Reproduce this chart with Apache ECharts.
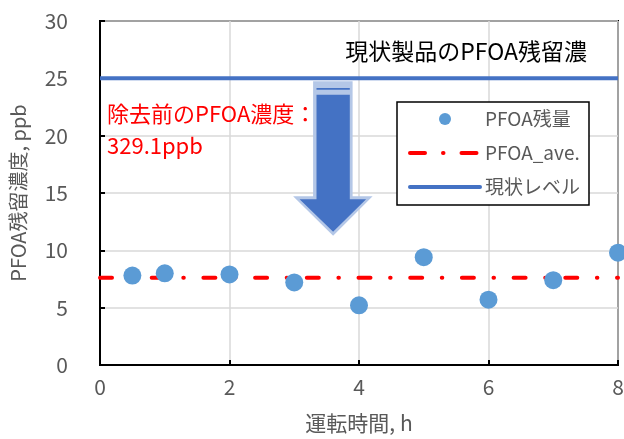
<!DOCTYPE html>
<html>
<head>
<meta charset="utf-8">
<script src="https://cdn.jsdelivr.net/npm/echarts@6/dist/echarts.min.js"></script>
<style>
  html, body { margin: 0; padding: 0; background: #fff; }
  #chart { width: 624px; height: 439px; }
</style>
</head>
<body>
<div id="chart"></div>
<script>
// Operating time (h) and residual PFOA concentration (ppb)
const runHours = [0.5, 1, 2, 3, 4, 5, 6, 7, 8];
const pfoaResidual = [7.8, 8.0, 7.9, 7.2, 5.2, 9.4, 5.7, 7.4, 9.8];
// Average residual level, drawn across the whole time range
const aveHours = [0, 8];
const aveValues = [7.6, 7.6];
// Residual level of the current product
const levelHours = [0, 8];
const levelValues = [25, 25];

const FONT = "'Noto Sans CJK JP', 'Noto Sans', sans-serif";
const GREY = '#595959';

const chart = echarts.init(document.getElementById('chart'), null, { renderer: 'canvas' });

chart.setOption({
  animation: false,
  textStyle: { fontFamily: FONT },
  grid: {
    left: 100, right: 6, top: 21, bottom: 74,
    containLabel: false, outerBoundsMode: 'none',
    show: true, borderColor: '#000', borderWidth: 2
  },
  xAxis: {
    type: 'value', min: 0, max: 8, interval: 2,
    name: '運転時間, h', nameLocation: 'middle', nameGap: 48,
    nameTextStyle: { fontSize: 21, color: GREY, fontFamily: FONT },
    axisLine: { lineStyle: { color: '#000', width: 2 } },
    axisTick: { inside: true, length: 5, lineStyle: { color: '#000', width: 2 } },
    axisLabel: { fontSize: 21, color: GREY, margin: 12, fontFamily: FONT },
    splitLine: { lineStyle: { color: '#D9D9D9', width: 1.5 } }
  },
  yAxis: {
    type: 'value', min: 0, max: 30, interval: 5,
    name: 'PFOA残留濃度, ppb', nameLocation: 'middle', nameGap: 72, nameRotate: 90,
    nameTextStyle: { fontSize: 20, color: GREY, fontFamily: FONT },
    axisLine: { lineStyle: { color: '#000', width: 2 } },
    axisTick: { inside: true, length: 5, lineStyle: { color: '#000', width: 2 } },
    axisLabel: { fontSize: 21, color: GREY, margin: 32, fontFamily: FONT },
    splitLine: { lineStyle: { color: '#D9D9D9', width: 1.5 } }
  },
  legend: {
    orient: 'vertical', left: 397, top: 102,
    padding: [7, 9, 8, 11],
    itemWidth: 70, itemHeight: 12, itemGap: 14, itemTextGap: 8,
    backgroundColor: '#fff', borderColor: '#000', borderWidth: 1.5, borderRadius: 0,
    textStyle: { fontSize: 19, lineHeight: 20, color: GREY, fontFamily: FONT },
    data: [
      { name: 'PFOA残量', icon: 'circle' },
      {
        name: 'PFOA_ave.',
        lineStyle: { color: '#FF0000', width: 4, type: [15, 18, 0.5, 18], cap: 'round' },
        itemStyle: { color: 'rgba(0,0,0,0)', borderWidth: 0 }
      },
      {
        name: '現状レベル',
        lineStyle: { color: '#4472C4', width: 4, type: 'solid', cap: 'round' },
        itemStyle: { color: 'rgba(0,0,0,0)', borderWidth: 0 }
      }
    ]
  },
  series: [
    {
      name: 'PFOA_ave.', type: 'line', symbol: 'none', z: 2,
      data: aveHours.map((h, i) => [h, aveValues[i]]),
      lineStyle: { color: '#FF0000', width: 4, type: [12, 19.6, 0.5, 19.6], cap: 'round' },
      itemStyle: { color: '#FF0000' }
    },
    {
      name: '現状レベル', type: 'line', symbol: 'none', z: 2,
      data: levelHours.map((h, i) => [h, levelValues[i]]),
      lineStyle: { color: '#4472C4', width: 4 },
      itemStyle: { color: '#4472C4' }
    },
    {
      name: 'PFOA残量', type: 'scatter', symbol: 'circle', symbolSize: 18, z: 3, clip: false,
      data: runHours.map((h, i) => [h, pfoaResidual[i]]),
      itemStyle: { color: '#5B9BD5', opacity: 1 }
    }
  ]
});

// Annotations: product level caption, pre-removal concentration and the downward arrow
const arrowX = 3.6;
const arrowTop = chart.convertToPixel({ gridIndex: 0 }, [arrowX, levelValues[0]]);
const cx = arrowTop[0], cy = arrowTop[1];
const outer = [
  [-20, 3], [19.5, 3], [19.5, 118], [39.5, 118], [0, 157.5], [-40, 118], [-20, 118]
].map(p => [cx + p[0], cy + p[1]]);
const inner = [
  [-16.6, 16.5], [16.7, 16.5], [16.7, 121], [33, 121], [0, 153.5], [-33.5, 121], [-16.6, 121]
].map(p => [cx + p[0], cy + p[1]]);

chart.setOption({
  graphic: [
    {
      type: 'text', z: 10,
      style: {
        text: '現状製品のPFOA残留濃', x: 587, y: 51,
        align: 'right', verticalAlign: 'middle',
        font: "23px " + FONT, fill: '#000'
      }
    },
    {
      type: 'text', z: 10,
      style: {
        text: '除去前のPFOA濃度：\n329.1ppb', x: 107, y: 130,
        align: 'left', verticalAlign: 'middle', lineHeight: 32,
        font: "22px " + FONT, fill: '#FF0000'
      }
    },
    { type: 'polygon', z: 11, shape: { points: outer }, style: { fill: '#B4C7E7' } },
    { type: 'polygon', z: 12, shape: { points: inner }, style: { fill: '#4472C4' } },
    {
      type: 'rect', z: 12,
      shape: { x: cx - 16.6, y: cy + 9.6, width: 33.3, height: 1.8 },
      style: { fill: '#4472C4' }
    }
  ]
});
</script>
</body>
</html>
